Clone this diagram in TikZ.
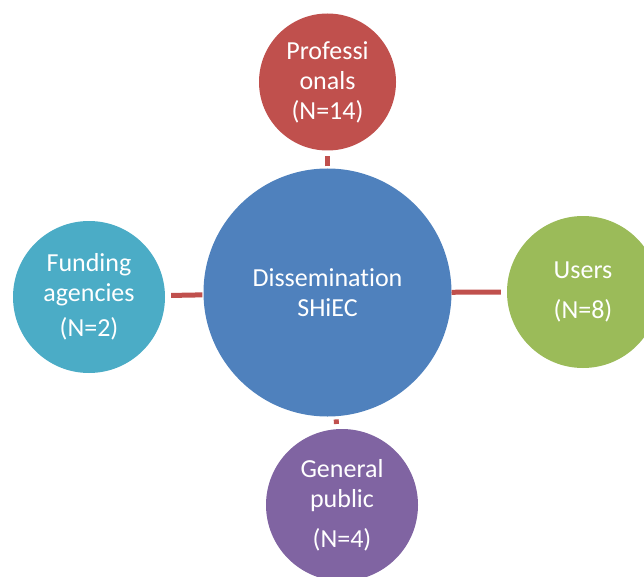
\documentclass[tikz,border=0pt]{standalone}
\usepackage{fontspec}
\setmainfont[Ligatures=NoCommon]{Carlito}
\definecolor{cblue}{HTML}{4F81BD}
\definecolor{cred}{HTML}{C0504D}
\definecolor{cgreen}{HTML}{9BBB59}
\definecolor{caqua}{HTML}{4BACC6}
\definecolor{cpurple}{HTML}{8064A2}
\begin{document}
\begin{tikzpicture}[x=1pt,y=-1pt,
  bubble/.style={circle,inner sep=0pt,text=white,align=center,
    font=\fontsize{26}{30}\selectfont},
  conn/.style={draw=cred,line width=5pt}]
\useasboundingbox (0,0) rectangle (644,577);
\clip (0,0) rectangle (644,577);
\node[bubble,fill=cblue,minimum size=248pt] (c) at (327.5,292.5) {Dissemination\\SHiEC};
\node[bubble,fill=cred,minimum size=137pt] (top) at (327.5,82) {Professi\\onals\\(N=14)};
\node[bubble,fill=caqua,minimum size=152pt] (left) at (89,297) {Funding\\agencies\\[5pt](N=2)};
\node[bubble,fill=cgreen,minimum size=152pt] (right) at (583,292) {Users\\[10pt](N=8)};
\node[bubble,fill=cpurple,minimum size=152pt] (bot) at (342,505) {General\\public\\[10pt](N=4)};
\draw[conn,shorten <=2pt,shorten >=5pt] (c) -- (top);
\draw[conn,shorten <=1pt,shorten >=6pt] (c) -- (left);
\draw[conn,shorten <=0pt,shorten >=6pt] (c) -- (right);
\draw[conn,shorten <=3pt,shorten >=5pt] (c) -- (bot);
\end{tikzpicture}
\end{document}
